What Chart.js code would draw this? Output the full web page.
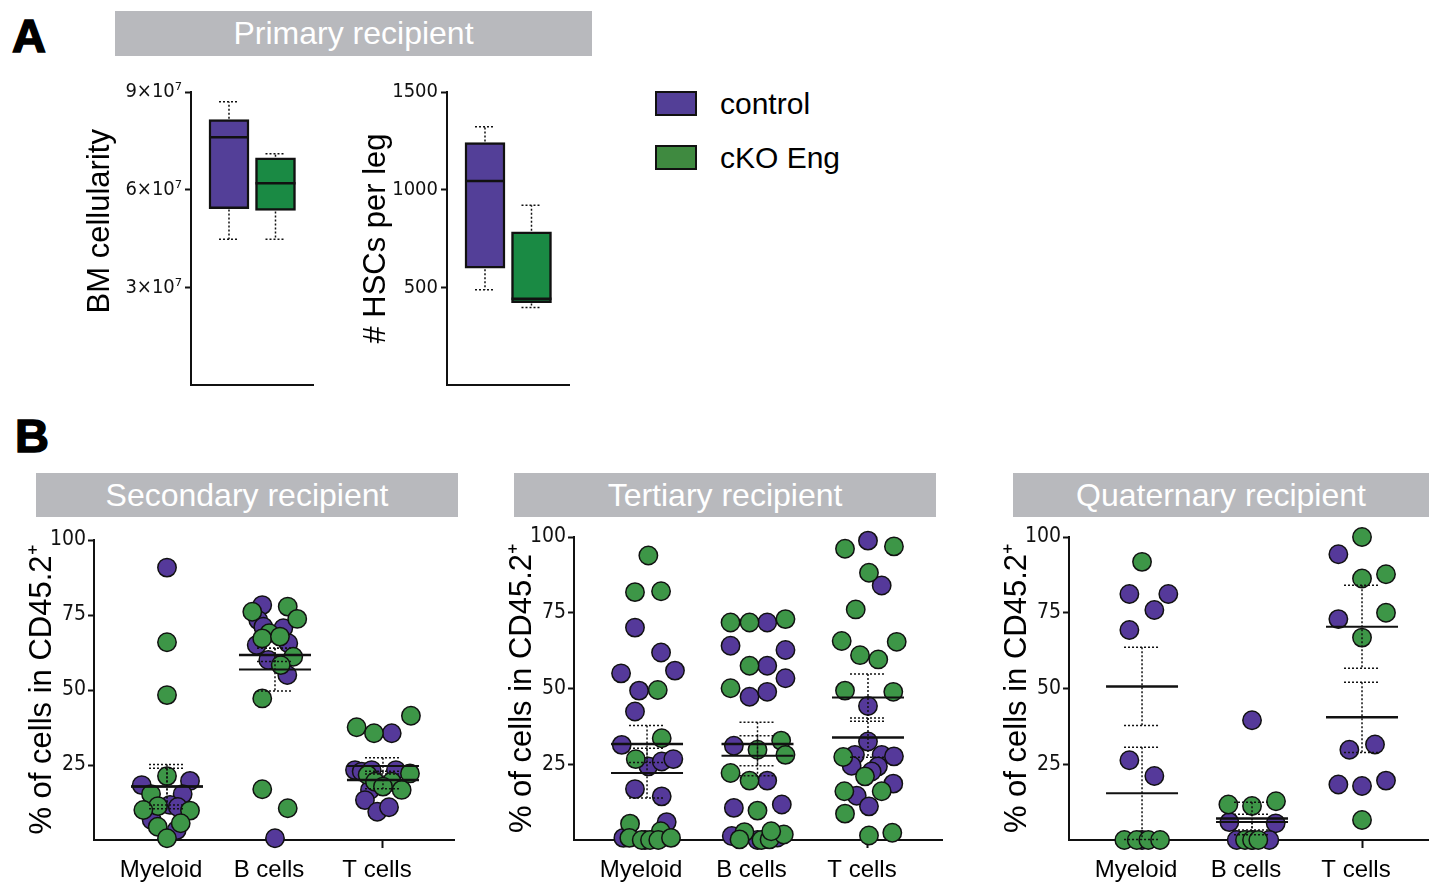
<!DOCTYPE html>
<html><head><meta charset="utf-8">
<script src="https://cdn.jsdelivr.net/npm/chart.js@4.4.1/dist/chart.umd.min.js"></script>
<style>
body{margin:0;width:1429px;height:882px;position:relative;background:#fff;overflow:hidden;font-family:'Liberation Sans',Arial,sans-serif;}
.lbl{position:absolute;font-weight:bold;font-size:47px;line-height:1;color:#000;-webkit-text-stroke:1.5px #000;}
.tbar{position:absolute;background:#b8b9bd;color:#fff;font-size:32px;display:flex;align-items:center;justify-content:center;}
canvas{position:absolute;}
.leg{position:absolute;font-size:30px;display:flex;align-items:center;height:25px;color:#000;}
.sw{width:38px;height:21px;border:2px solid #111;margin-right:23px;}
</style></head><body>
<div class="lbl" style="left:12px;top:12px;">A</div>
<div class="lbl" style="left:15px;top:412px;">B</div>
<div class="tbar" style="left:115px;top:11px;width:477px;height:45px;">Primary recipient</div>
<div class="tbar" style="left:36px;top:473px;width:422px;height:44px;">Secondary recipient</div>
<div class="tbar" style="left:514px;top:473px;width:422px;height:44px;">Tertiary recipient</div>
<div class="tbar" style="left:1013px;top:473px;width:416px;height:44px;">Quaternary recipient</div>
<div class="leg" style="left:655px;top:91px;"><div class="sw" style="background:#533f97"></div>control</div>
<div class="leg" style="left:655px;top:145px;"><div class="sw" style="background:#3f8a40"></div>cKO Eng</div>

<canvas id="bm" width="234" height="323" style="left:80px;top:77px;"></canvas>
<canvas id="hsc" width="214" height="323" style="left:356px;top:77px;"></canvas>
<canvas id="sec" width="435" height="362" style="left:20px;top:520px;"></canvas>
<canvas id="ter" width="448" height="362" style="left:495px;top:520px;"></canvas>
<canvas id="qua" width="439" height="362" style="left:990px;top:520px;"></canvas>

<script>
// ---------- data ----------
const boxGroups = ['control', 'cKO Eng'];
const bmMin    = [44.8e6, 44.8e6];
const bmQ1     = [54.2e6, 53.6e6];
const bmMedian = [76.1e6, 62.0e6];
const bmQ3     = [81.5e6, 69.8e6];
const bmMax    = [87.0e6, 71.0e6];
const bmTicks  = [3e7, 6e7, 9e7];

const hscMin    = [487, 397];
const hscQ1     = [598, 422];
const hscMedian = [1045, 442];
const hscQ3     = [1241, 784];
const hscMax    = [1322, 920];
const hscTicks  = [500, 1000, 1500];

const categories = ['Myeloid', 'B cells', 'T cells'];
const pctTicks = [25, 50, 75, 100];

// points: [category position (index + jitter), % value]
const secCtrl = [[0,90.8],[-0.234,18.3],[0.213,19.7],[0.145,15.3],[0.028,11.7],[0.10,11.0],[-0.142,6.7],[0.09,3.3],
  [0.882,78.3],[0.845,73.3],[0.892,71.1],[1.077,70.6],[0.831,65.0],[1.123,65.6],[0.938,60.0],[1.114,55.0],[1,0.6],
  [2.081,35.6],[1.741,23.3],[1.803,22.8],[1.895,23.3],[2.12,23.3],[1.88,16.7],[1.833,13.3],[1.947,9.4],[2.056,10.9]];
const secCko = [[0,65.9],[0,48.3],[0,21.3],[-0.148,15.3],[-0.083,11.3],[-0.219,10.0],[0.213,9.8],[0.127,5.6],[-0.086,4.4],[0,0.6],
  [0.79,76.1],[1.118,77.8],[1.206,73.7],[0.947,68.9],[0.882,67.2],[1.046,67.8],[1.169,61.1],[1.053,58.3],[0.882,47.2],[0.882,16.9],[1.118,10.6],
  [1.756,37.6],[1.917,35.6],[2.259,41.4],[2.25,22.2],[1.858,21.7],[1.926,19.4],[2.081,19.4],[2.173,16.7],[2,17.8]];
const secMeanCtrl = [17.8, 61.7, 20.0], secSemCtrl = [7.4, 2.2, 2.9];
const secMeanCko  = [17.8, 56.8, 24.7], secSemCko  = [6.1, 7.1, 2.7];

const terCtrl = [[-0.109,70.1],[0.127,61.9],[-0.235,55.0],[0.253,55.9],[-0.072,49.3],[-0.109,42.4],[-0.229,31.4],[0.012,24.3],[0.133,25.9],[0.238,26.7],[-0.109,16.8],[0.133,14.4],[0.178,5.9],[-0.214,0.7],[-0.018,0],[0.118,0.5],
  [1.088,71.8],[0.756,64.1],[1.253,62.7],[1.088,57.5],[1.253,53.4],[0.928,47.3],[1.088,48.9],[0.786,31.1],[1.088,19.6],[0.786,10.6],[1.22,11.7],[0.767,1.3],[1,0],[1.18,0.8],
  [2,98.8],[2.124,84.0],[2,44.2],[2,32.5],[1.882,28.1],[2.124,28.1],[2.235,27.6],[1.852,24.5],[2.09,24.3],[2.033,22.6],[2.229,18.6],[1.898,14.6],[2.009,11.1]];
const terCko = [[0.012,93.9],[-0.109,81.8],[0.127,82.1],[0.097,49.5],[0.133,33.6],[-0.102,26.7],[-0.154,5.4],[0.124,2.9],[-0.16,0.7],[-0.048,0],[0.027,0],[0.102,0],[0.217,0.7],
  [0.756,71.8],[0.928,71.8],[1.253,72.9],[0.928,57.5],[0.756,50.1],[1,29.8],[1.214,32.8],[1.253,28.1],[0.756,22.1],[0.928,19.6],[1,9.7],[0.882,2.6],[0.837,0.2],[1.036,0],[1.109,0.2],[1.238,1.8],[1.124,2.9],
  [1.792,96.1],[2.235,96.9],[2.009,88.2],[1.889,76.1],[1.762,65.7],[2.26,65.4],[1.928,61.0],[2.093,59.6],[1.792,49.3],[2.229,48.9],[1.776,27.4],[1.973,21.0],[1.786,16.1],[2.124,16.1],[1.792,8.7],[2.009,1.5],[2.22,2.4]];
const terMeanCtrl = [31.7, 31.7, 33.8], terSemCtrl = [6.1, 7.2, 6.5];
const terMeanCko  = [22.1, 27.8, 47.0], terSemCko  = [8.2, 6.6, 7.8];

const quaCtrl = [[-0.115,81.2],[0.239,81.2],[0.112,75.9],[-0.115,69.3],[-0.115,26.3],[0.112,21.1],[0,0],
  [1,39.5],[0.794,5.9],[1.215,5.5],[0.861,0],[1.157,0],[1,0],
  [1.785,94.3],[1.785,72.9],[1.885,29.8],[2.118,31.5],[1.785,18.3],[2,17.8],[2.218,19.6]];
const quaCko = [[0,91.8],[-0.161,0],[-0.048,0],[0.057,0],[0.164,0],
  [0.785,11.7],[1,11.2],[1.218,12.8],[0.936,0],[1,0],[1.057,0],
  [2,100],[2,86.3],[2.218,87.7],[2.218,75],[2,66.8],[2,6.6]];
const quaMeanCtrl = [50.7, 7.1, 40.5], quaSemCtrl = [12.9, 5.4, 11.6];
const quaMeanCko  = [15.4, 5.9, 70.4], quaSemCko  = [15.2, 2.6, 13.7];

// ---------- styling ----------
const purple = '#55399a', green = '#3d9647', boxPurple = '#533f98', boxGreen = '#1a8a44';
const narrow = "'Liberation Sans Narrow','DejaVu Sans Condensed','Liberation Sans',sans-serif";
Chart.defaults.font.family = "'Liberation Sans',Arial,sans-serif";
Chart.defaults.color = '#000';

function boxPlugin(mins, q1s, meds, q3s, maxs) {
  return { id: 'whisk', afterDatasetsDraw(chart) {
    const { ctx, scales: { x, y } } = chart;
    mins.forEach((mn, i) => {
      const cx = x.getPixelForValue(i);
      const yq1 = y.getPixelForValue(q1s[i]);
      const yq3 = y.getPixelForValue(q3s[i]);
      const ymin = y.getPixelForValue(mn), ymax = y.getPixelForValue(maxs[i]);
      const ymed = y.getPixelForValue(meds[i]);
      ctx.save(); ctx.strokeStyle = '#111'; ctx.lineWidth = 1.5; ctx.setLineDash([2, 2]);
      ctx.beginPath();
      ctx.moveTo(cx, yq3 - 1); ctx.lineTo(cx, ymax); ctx.moveTo(cx - 10, ymax); ctx.lineTo(cx + 10, ymax);
      ctx.moveTo(cx, yq1 + 1); ctx.lineTo(cx, ymin); ctx.moveTo(cx - 10, ymin); ctx.lineTo(cx + 10, ymin);
      ctx.stroke();
      ctx.setLineDash([]); ctx.lineWidth = 2.5; ctx.beginPath();
      ctx.moveTo(cx - 20, ymed); ctx.lineTo(cx + 20, ymed); ctx.stroke();
      ctx.restore();
    });
  } };
}

function boxChart(id, mins, q1s, meds, q3s, maxs, ticks, maxV, fmt, title, yWidth) {
  new Chart(document.getElementById(id), {
    type: 'bar',
    data: { datasets: [{
      label: 'box',
      data: boxGroups.map((g, i) => ({ x: i, y: [q1s[i], q3s[i]] })),
      backgroundColor: [boxPurple, boxGreen], borderColor: '#111', borderWidth: 2.5,
      borderSkipped: false, barThickness: 40
    }] },
    options: {
      responsive: false, animation: false, events: [],
      layout: { autoPadding: false, padding: { top: 10, left: 0, right: 0, bottom: 0 } },
      plugins: { legend: { display: false }, tooltip: { enabled: false } },
      scales: {
        x: { type: 'linear', min: -0.817, max: 1.828, offset: false, ticks: { display: false },
             grid: { display: false, offset: false }, border: { display: true, color: '#111', width: 2 },
             afterFit: s => { s.height = 15; } },
        y: { min: 0, max: maxV,
             afterBuildTicks: s => { s.ticks = ticks.map(v => ({ value: v })); },
             ticks: { callback: fmt, font: { family: narrow, size: 20 }, color: '#111', padding: 3 },
             grid: { drawOnChartArea: false, drawTicks: true, tickLength: 6, tickColor: '#111', tickWidth: 2 },
             border: { display: true, color: '#111', width: 2 },
             title: { display: true, text: title, font: { size: 31 }, color: '#000', padding: { top: 2, bottom: 0 } },
             afterFit: s => { s.width = yWidth; } }
      }
    },
    plugins: [boxPlugin(mins, q1s, meds, q3s, maxs)]
  });
}

boxChart('bm', bmMin, bmQ1, bmMedian, bmQ3, bmMax, bmTicks, 9e7, v => (v / 1e7) + '×10⁷', '    BM cellularity', 111);
boxChart('hsc', hscMin, hscQ1, hscMedian, hscQ3, hscMax, hscTicks, 1500, v => String(v), '# HSCs per leg', 91);

function meanPlugin(mc, sc, mk, sk) {
  return { id: 'meanSem', afterDatasetsDraw(chart) {
    const { ctx, scales: { x, y } } = chart;
    const groups = [{ m: mc, s: sc, w: 2.5 }, { m: mk, s: sk, w: 2 }];
    ctx.save(); ctx.strokeStyle = '#111';
    groups.forEach(g => g.m.forEach((m, i) => {
      const cx = x.getPixelForValue(i);
      const yt = y.getPixelForValue(m + g.s[i]);
      const yb = y.getPixelForValue(Math.max(0, m - g.s[i]));
      ctx.setLineDash([2, 2]); ctx.lineWidth = 1.5; ctx.beginPath();
      ctx.moveTo(cx, yt); ctx.lineTo(cx, yb);
      ctx.moveTo(cx - 18, yt); ctx.lineTo(cx + 18, yt);
      ctx.moveTo(cx - 18, yb); ctx.lineTo(cx + 18, yb);
      ctx.stroke();
    }));
    groups.forEach(g => g.m.forEach((m, i) => {
      const cx = x.getPixelForValue(i);
      const ym = y.getPixelForValue(m);
      ctx.setLineDash([]); ctx.lineWidth = g.w; ctx.beginPath();
      ctx.moveTo(cx - 36, ym); ctx.lineTo(cx + 36, ym); ctx.stroke();
    }));
    ctx.restore();
  } };
}

function scatterChart(id, ctrl, cko, xMin, xMax, yWidth, titlePad, padTop, stats) {
  const ds = (label, pts, color, order) => ({
    label, data: pts.map(([x, y]) => ({ x, y })), backgroundColor: color, borderColor: '#111',
    borderWidth: 1.5, pointRadius: 9.2, pointHoverRadius: 9.2, clip: false, order
  });
  new Chart(document.getElementById(id), {
    type: 'scatter',
    data: { datasets: [ds('control', ctrl, purple, 2), ds('cKO Eng', cko, green, 1)] },
    options: {
      responsive: false, animation: false, events: [],
      layout: { autoPadding: false, padding: { top: padTop, left: 0, right: 0, bottom: 0 } },
      plugins: { legend: { display: false }, tooltip: { enabled: false } },
      scales: {
        x: { type: 'linear', min: xMin, max: xMax,
             afterBuildTicks: s => { s.ticks = categories.map((c, i) => ({ value: i })); },
             ticks: { callback: v => categories[v], font: { size: 24 }, color: '#000', padding: 8,
                      labelOffset: -6, autoSkip: false, maxRotation: 0 },
             grid: { drawOnChartArea: false, drawTicks: true, tickLength: 8, tickColor: '#111', tickWidth: 2 },
             border: { display: true, color: '#111', width: 2 },
             afterFit: s => { s.height = 42; } },
        y: { min: 0, max: 100,
             afterBuildTicks: s => { s.ticks = pctTicks.map(v => ({ value: v })); },
             ticks: { font: { family: narrow, size: 21 }, color: '#111', padding: 2 },
             grid: { drawOnChartArea: false, drawTicks: true, tickLength: 6, tickColor: '#111', tickWidth: 2 },
             border: { display: true, color: '#111', width: 2 },
             title: { display: true, text: '% of cells in CD45.2⁺', font: { size: 31 }, color: '#000',
                      padding: { top: titlePad, bottom: 0 } },
             afterFit: s => { s.width = yWidth; } }
      }
    },
    plugins: [meanPlugin(...stats)]
  });
}

scatterChart('sec', secCtrl, secCko, -0.676, 2.667, 74, 4, 20, [secMeanCtrl, secSemCtrl, secMeanCko, secSemCko]);
scatterChart('ter', terCtrl, terCko, -0.661, 2.679, 79, 9, 17, [terMeanCtrl, terSemCtrl, terMeanCko, terSemCko]);
scatterChart('qua', quaCtrl, quaCko, -0.664, 2.609, 79, 9, 17, [quaMeanCtrl, quaSemCtrl, quaMeanCko, quaSemCko]);
</script>
</body></html>
